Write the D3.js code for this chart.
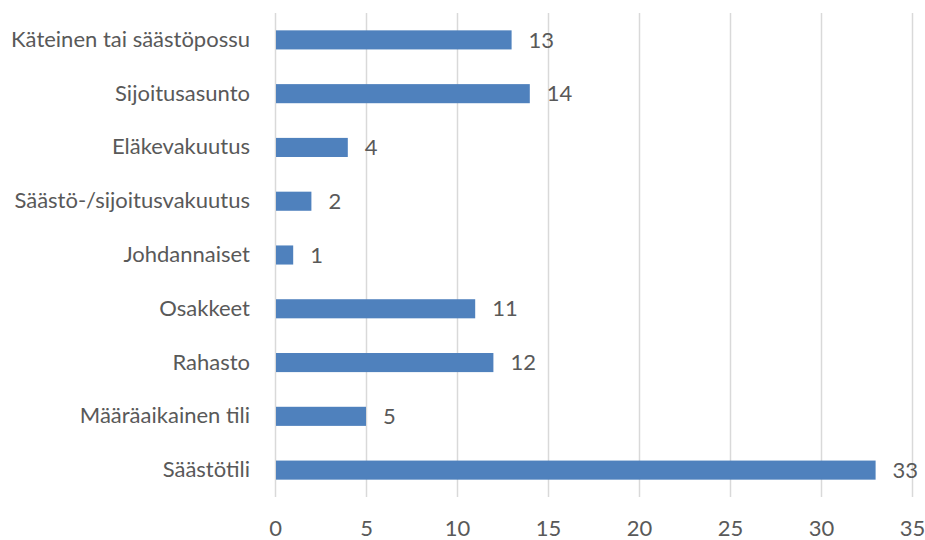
<!DOCTYPE html>
<html>
<head>
<meta charset="utf-8">
<script src="https://cdn.jsdelivr.net/npm/d3@7"></script>
<style>
  html, body { margin: 0; padding: 0; background: #fff; }
  svg text { font-family: Lato, "Open Sans", sans-serif; fill: #595959; }
</style>
</head>
<body>
<svg id="chart" width="925" height="540"></svg>
<script>
// Säästämis- ja sijoituskohteet (vastausten määrä)
const categories = [
  "Käteinen tai säästöpossu",
  "Sijoitusasunto",
  "Eläkevakuutus",
  "Säästö-/sijoitusvakuutus",
  "Johdannaiset",
  "Osakkeet",
  "Rahasto",
  "Määräaikainen tili",
  "Säästötili"
];
const values = [13, 14, 4, 2, 1, 11, 12, 5, 33];
const xTicks = [0, 5, 10, 15, 20, 25, 30, 35];

const svg = d3.select("#chart");
const margin = { top: 13, right: 13, bottom: 43, left: 275 };
const width = 925, height = 540;
const fontSize = 22;

const x = d3.scaleLinear()
  .domain([0, 35])
  .range([margin.left, width - margin.right]);

const y = d3.scaleBand()
  .domain(categories)
  .range([margin.top, height - margin.bottom])
  .paddingInner(0.645)
  .paddingOuter(0.3225);

// vertical gridlines
svg.append("g")
  .selectAll("line")
  .data(xTicks)
  .join("line")
  .attr("x1", d => x(d) + 0.5)
  .attr("x2", d => x(d) + 0.5)
  .attr("y1", margin.top)
  .attr("y2", height - margin.bottom)
  .attr("stroke", "#d9d9d9")
  .attr("stroke-width", 1.5);

// x axis tick labels
const xAxis = d3.axisBottom(x).tickValues(xTicks).tickSize(0).tickPadding(0);
const gx = svg.append("g")
  .attr("transform", `translate(0,${height - margin.bottom + 31})`)
  .call(xAxis);
gx.select(".domain").remove();
gx.selectAll("text")
  .attr("font-size", fontSize)
  .attr("dy", "0.35em")
  .style("font-family", "Lato, 'Open Sans', sans-serif")
  .attr("fill", "#595959");

// y axis category labels
const yAxis = d3.axisLeft(y).tickSize(0).tickPadding(25);
const gy = svg.append("g")
  .attr("transform", `translate(${margin.left},0)`)
  .call(yAxis);
gy.select(".domain").remove();
gy.selectAll("text")
  .attr("font-size", fontSize)
  .style("font-family", "Lato, 'Open Sans', sans-serif")
  .attr("fill", "#595959");

// bars
svg.append("g")
  .selectAll("rect")
  .data(categories)
  .join("rect")
  .attr("x", x(0) + 1)
  .attr("y", d => y(d))
  .attr("width", (d, i) => x(values[i]) - x(0) - 1)
  .attr("height", y.bandwidth())
  .attr("fill", "#4f81bd");

// value labels
svg.append("g")
  .selectAll("text")
  .data(categories)
  .join("text")
  .attr("x", (d, i) => x(values[i]) + 17)
  .attr("y", d => y(d) + y.bandwidth() / 2)
  .attr("dy", "0.35em")
  .attr("font-size", fontSize)
  .text((d, i) => values[i]);
</script>
</body>
</html>
